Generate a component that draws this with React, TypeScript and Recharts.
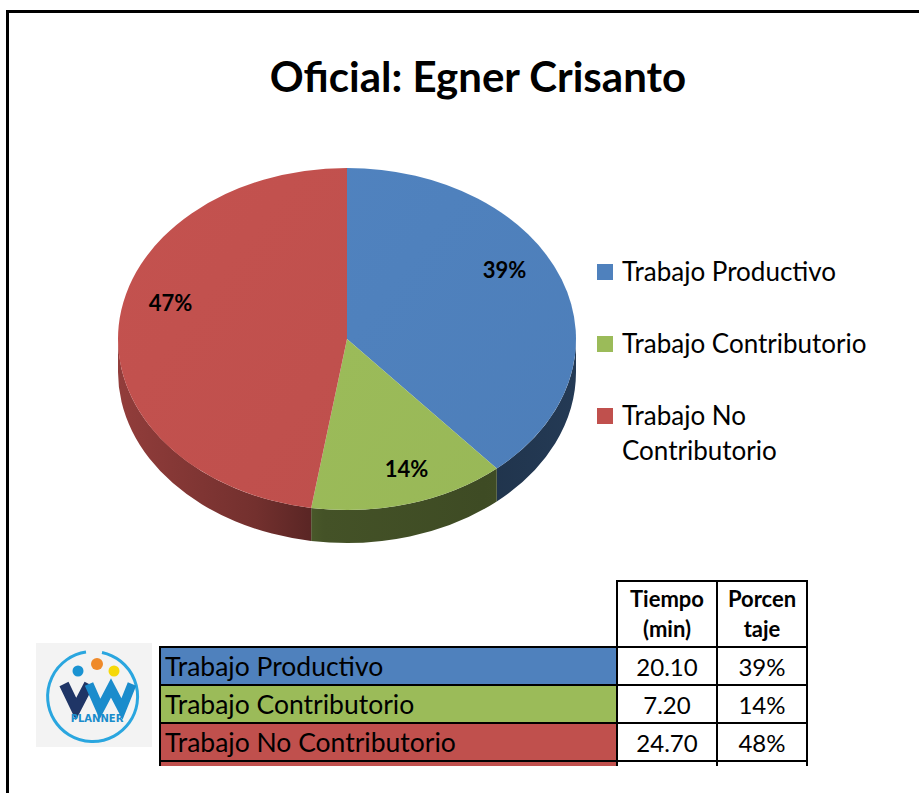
import React from 'react';
import { PieChart, Pie, Cell, Legend } from 'recharts';

const title = 'Oficial: Egner Crisanto';
const categories = ['Trabajo Productivo', 'Trabajo Contributorio', 'Trabajo No Contributorio'];
const minutes = [20.1, 7.2, 24.7];
const chartLabels = ['39%', '14%', '47%'];
const tableMinutes = ['20.10', '7.20', '24.70'];
const tablePercents = ['39%', '14%', '48%'];
const tableHeaders = [['Tiempo', '(min)'], ['Porcen', 'taje']];
const colors = ['#4f81bd', '#9bbb59', '#c0504d'];

const data = categories.map((name, i) => ({ name, value: minutes[i] }));

const FONT = 'Lato, "Open Sans", "DejaVu Sans", sans-serif';
const TILT = 0.747;
const DEPTH = 33;
const RAD = Math.PI / 180;

function pt(cx: number, cy: number, r: number, a: number, dy = 0): [number, number] {
  return [cx + r * Math.cos(a * RAD), cy - TILT * r * Math.sin(a * RAD) + dy];
}

function shade(hex: string, f: number): string {
  const n = parseInt(hex.slice(1), 16);
  const r = Math.min(255, Math.round(((n >> 16) & 255) * f));
  const g = Math.min(255, Math.round(((n >> 8) & 255) * f));
  const b = Math.min(255, Math.round((n & 255) * f));
  return `rgb(${r},${g},${b})`;
}

const Slice3D = (props: any) => {
  const { cx, cy, outerRadius: r, startAngle, endAngle, fill, index } = props;
  const s = Math.max(startAngle, endAngle);
  const e = Math.min(startAngle, endAngle);
  const p1 = pt(cx, cy, r, s);
  const p2 = pt(cx, cy, r, e);
  const ry = r * TILT;
  const large = s - e > 180 ? 1 : 0;
  const top = `M${cx},${cy} L${p1[0]},${p1[1]} A${r},${ry} 0 ${large} 1 ${p2[0]},${p2[1]} Z`;
  const sides: string[] = [];
  for (const o of [-720, -360, 0, 360]) {
    const a = Math.max(e, -180 + o);
    const b = Math.min(s, o);
    if (b > a) {
      const pb = pt(cx, cy, r, b);
      const pa = pt(cx, cy, r, a);
      const pad = pt(cx, cy, r, a, DEPTH);
      const pbd = pt(cx, cy, r, b, DEPTH);
      const lg = b - a > 180 ? 1 : 0;
      sides.push(
        `M${pb[0]},${pb[1]} A${r},${ry} 0 ${lg} 1 ${pa[0]},${pa[1]} L${pad[0]},${pad[1]} A${r},${ry} 0 ${lg} 0 ${pbd[0]},${pbd[1]} Z`
      );
    }
  }
  const gid = `side-grad-${index}`;
  const tid = `top-grad-${index}`;
  return (
    <g>
      <defs>
        <linearGradient id={gid} gradientUnits="userSpaceOnUse" x1={cx - r} y1={0} x2={cx + r} y2={0}>
          <stop offset="0" stopColor={shade(fill, 0.76)} />
          <stop offset="0.3" stopColor={shade(fill, 0.6)} />
          <stop offset="0.45" stopColor={shade(fill, 0.44)} />
          <stop offset="0.8" stopColor={shade(fill, 0.4)} />
          <stop offset="1" stopColor={shade(fill, 0.45)} />
        </linearGradient>
        <linearGradient id={tid} gradientUnits="userSpaceOnUse" x1={cx - r} y1={cy - ry} x2={cx + r} y2={cy + ry}>
          <stop offset="0" stopColor={shade(fill, 1.02)} />
          <stop offset="1" stopColor={shade(fill, 0.98)} />
        </linearGradient>
      </defs>
      {sides.map((d, i) => (
        <path key={i} d={d} fill={`url(#${gid})`} stroke="none" />
      ))}
      <path d={top} fill={`url(#${tid})`} stroke="none" />
    </g>
  );
};

const renderLabel = (p: any) => {
  const { cx, cy, midAngle, outerRadius, index } = p;
  const ang = midAngle + 11 * Math.cos(midAngle * RAD);
  const [x, y] = pt(cx, cy, outerRadius * 0.8, ang);
  return (
    <text
      x={x}
      y={y}
      textAnchor="middle"
      dominantBaseline="central"
      fontFamily={FONT}
      fontWeight="bold"
      fontSize={22}
      fill="#000"
    >
      {chartLabels[index]}
    </text>
  );
};

const renderLegend = (props: any) => {
  const payload = [...(props.payload || [])].sort(
    (a: any, b: any) => categories.indexOf(a.value) - categories.indexOf(b.value)
  );
  return (
    <div style={{ fontFamily: FONT }}>
      {payload.map((entry: any, i: number) => (
        <div key={i} style={{ display: 'flex', alignItems: 'flex-start', marginBottom: 37 }}>
          <div
            style={{
              width: 16,
              height: 16,
              marginTop: 10,
              marginRight: 9,
              background: entry.color,
              flex: '0 0 auto',
            }}
          />
          <div style={{ fontSize: 26, lineHeight: '35px', color: '#000', width: 268 }}>{entry.value}</div>
        </div>
      ))}
    </div>
  );
};

const xEdges = [159, 616, 716, 806];
const yEdges = [580, 646, 684, 722, 760];

const cellBase: React.CSSProperties = {
  position: 'absolute',
  boxSizing: 'border-box',
  border: '2px solid #000',
  display: 'flex',
  alignItems: 'center',
  color: '#000',
  fontFamily: FONT,
};

function cellBox(c: number, r: number): React.CSSProperties {
  return {
    left: xEdges[c],
    top: yEdges[r],
    width: xEdges[c + 1] - xEdges[c] + 2,
    height: yEdges[r + 1] - yEdges[r] + 2,
  };
}

const Logo = () => (
  <svg width={116} height={104} style={{ position: 'absolute', left: 36, top: 643 }}>
    <rect x={0} y={0} width={116} height={104} fill="#f3f3f3" />
    <path d="M 50 9 A 45 45 0 1 0 66 9.5" fill="none" stroke="#2aa6df" strokeWidth={3} />
    <circle cx={42} cy={28} r={5.5} fill="#1a93d2" />
    <circle cx={61} cy={21} r={6} fill="#ef8a2a" />
    <circle cx={78} cy={28} r={5.5} fill="#f5d90a" />
    <polyline points="28,41 40,66 53,41" fill="none" stroke="#1f3566" strokeWidth={10} strokeLinejoin="miter" />
    <polyline points="53,41 64,66 75,45 86,66 96,41" fill="none" stroke="#1a8ccc" strokeWidth={9} strokeLinejoin="miter" />
    <text x={61} y={79} textAnchor="middle" fontFamily="'DejaVu Sans', sans-serif" fontWeight="bold" fontSize={10} fill="#1a8ccc">
      PLANNER
    </text>
  </svg>
);

export default function App() {
  return (
    <div style={{ position: 'absolute', left: 0, top: 0, width: 919, height: 793, background: '#fff', fontFamily: FONT, overflow: 'hidden' }}>
      <div
        style={{
          position: 'absolute',
          left: 6,
          top: 10,
          width: 913,
          height: 783,
          boxSizing: 'border-box',
          borderLeft: '3px solid #000',
          borderTop: '3px solid #000',
        }}
      />
      <div
        style={{
          position: 'absolute',
          left: 78,
          top: 50,
          width: 800,
          textAlign: 'center',
          fontSize: 42,
          fontWeight: 'bold',
          lineHeight: '52px',
          color: '#000',
        }}
      >
        {title}
      </div>
      <div style={{ position: 'absolute', left: 0, top: 0 }}>
        <PieChart width={919} height={580} margin={{ top: 0, right: 0, bottom: 0, left: 0 }}>
          <Pie
            data={data}
            dataKey="value"
            nameKey="name"
            cx={347}
            cy={339}
            outerRadius={229}
            startAngle={90}
            endAngle={-270}
            stroke="none"
            isAnimationActive={false}
            label={renderLabel}
            labelLine={false}
            shape={Slice3D}
            inactiveShape={Slice3D}
            activeShape={Slice3D}
          >
            {data.map((d, i) => (
              <Cell key={d.name} fill={colors[i]} />
            ))}
          </Pie>
          <Legend
            content={renderLegend}
            layout="vertical"
            wrapperStyle={{ position: 'absolute', left: 597, top: 254, width: 310, bottom: 'auto', right: 'auto' }}
          />
        </PieChart>
      </div>
      <Logo />
      {tableHeaders.map((lines, i) => (
        <div
          key={'h' + i}
          style={{
            ...cellBase,
            ...cellBox(i + 1, 0),
            flexDirection: 'column',
            justifyContent: 'center',
            fontWeight: 'bold',
            fontSize: 22,
            lineHeight: '30px',
            textAlign: 'center',
          }}
        >
          {lines.map((l) => (
            <span key={l}>{l}</span>
          ))}
        </div>
      ))}
      {categories.map((name, r) => (
        <React.Fragment key={name}>
          <div style={{ ...cellBase, ...cellBox(0, r + 1), background: colors[r], fontSize: 26.5, paddingLeft: 4 }}>{name}</div>
          <div style={{ ...cellBase, ...cellBox(1, r + 1), justifyContent: 'center', fontSize: 24, background: '#fff' }}>
            {tableMinutes[r]}
          </div>
          <div style={{ ...cellBase, ...cellBox(2, r + 1), justifyContent: 'center', fontSize: 24, background: '#fff' }}>
            {tablePercents[r]}
          </div>
        </React.Fragment>
      ))}
      {[0, 1, 2].map((c) => (
        <div
          key={'p' + c}
          style={{
            ...cellBase,
            left: xEdges[c],
            top: yEdges[4],
            width: xEdges[c + 1] - xEdges[c] + 2,
            height: 6,
            borderBottom: 'none',
            background: c === 0 ? colors[2] : '#fff',
          }}
        />
      ))}
    </div>
  );
}
